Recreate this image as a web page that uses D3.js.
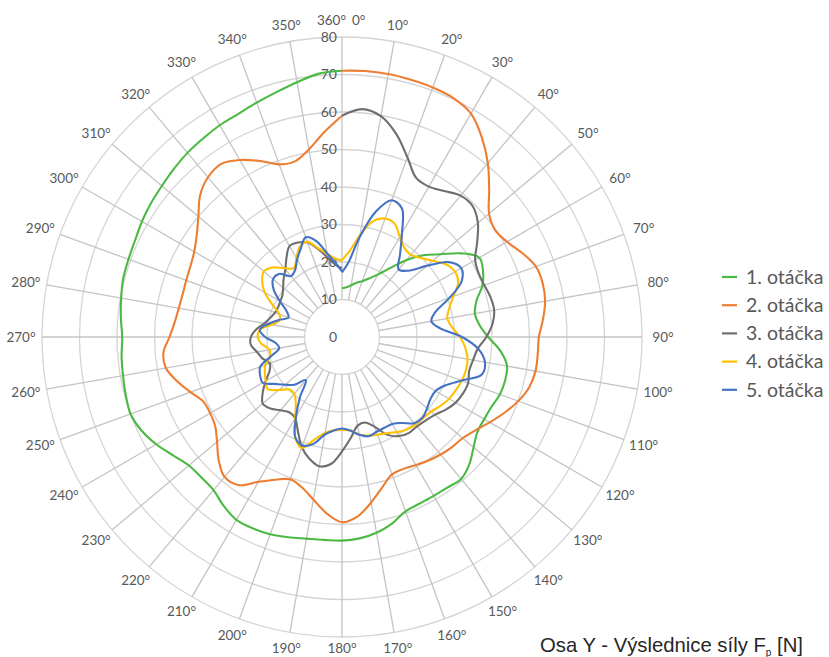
<!DOCTYPE html>
<html>
<head>
<meta charset="utf-8">
<script src="https://cdn.jsdelivr.net/npm/d3@7"></script>
<style>
  body { margin: 0; background: #fff; }
  svg { display: block; }
</style>
</head>
<body>
<svg id="chart" width="829" height="657"></svg>
<script>
// angles in degrees (one value every 5 degrees, 0..360)
const angles = d3.range(0, 361, 5);
const radialTicks = [10, 20, 30, 40, 50, 60, 70, 80];
const angleTicks = d3.range(10, 360, 10);
const seriesNames = ["1. otáčka", "2. otáčka", "3. otáčka", "4. otáčka", "5. otáčka"];

const otacka1 = [13, 13.3, 14, 15, 15.8, 17.3, 19.3, 22.5, 26.8, 30.8, 34.3, 38.9, 42.3, 41.5, 39.8, 37.1, 36, 36.8, 39, 42.4,
  44.7, 45, 44.8, 44, 43.8, 44.1, 45.8, 48, 49.4, 49, 48.9, 49, 49.5, 51.5, 53, 53.9, 54.3, 54.3, 54.6, 55.3,
  56, 56.3, 56.3, 55, 53.3, 53, 53.3, 55, 57.2, 59, 60, 59.7, 59.3, 59, 58.6, 59.2, 59.8, 60.4, 60.6, 60.9,
  61.6, 62.2, 62.7, 63.4, 64.1, 64.6, 65.2, 65.6, 66.5, 67.6, 69, 70.5, 71];
const otacka2 = [71, 71.2, 71.2, 71, 70.8, 70.3, 68.8, 65, 60.5, 55.5, 51.2, 49.8, 50.8, 53, 55, 55.4, 55, 53.8, 52.5, 52.4,
  52.4, 51.7, 50, 47.8, 45.5, 43.4, 42, 41.5, 40.9, 40.2, 39.4, 38.8, 39, 41.5, 44.8, 48, 49.4, 47.2, 44, 41.5,
  40.4, 42, 44.6, 48.2, 48.7, 46.5, 43.5, 41.3, 40.6, 40.8, 43, 45.5, 47.7, 47.8, 46, 44.8, 44.2, 44, 44.2, 44.6,
  45.5, 47.3, 50, 53.5, 55.6, 56.3, 54.5, 51.8, 49, 48.5, 50.8, 54.8, 59];
const otacka3 = [59, 61, 59.8, 56, 51, 46.8, 46.3, 47.5, 49.2, 49.3, 47.3, 44, 41, 40.2, 40.4, 41, 41.2, 40.3, 38.5, 36.3,
  35.5, 35.1, 35.8, 35.6, 35, 33.8, 32.3, 31.5, 31.1, 31.2, 30.5, 28.8, 25.5, 23.6, 24, 27, 30.5, 34, 35, 33.6,
  31.3, 27.8, 25, 24.5, 25.5, 27, 27.6, 25.8, 23.5, 21.3, 20.5, 22, 23, 24.4, 24.3, 23, 21, 19.8, 19, 18.8,
  19, 19.4, 20.5, 22, 23.5, 25.8, 28, 27.8, 26.8, 24.2, 21.4, 19.3, 18.3];
const otacka4 = [20.5, 23, 27.5, 32, 33.6, 33.3, 30.8, 29, 28.6, 29.8, 31.6, 33.8, 34.8, 34.2, 31.6, 29.6, 28.5, 29.5, 31.5, 33,
  34, 34.2, 34, 33.5, 33, 32, 31, 30.6, 30.5, 30.1, 29.3, 28.3, 27.7, 27.2, 26.4, 25, 24.8, 25, 26, 28.3,
  31.5, 29.5, 25, 21.5, 19.8, 19.8, 22, 24.2, 23.5, 22.7, 21.8, 19.9, 19.6, 21.5, 22.5, 22, 19, 17.2, 17.8, 20.5,
  23.8, 26, 27.2, 26.2, 24, 22.4, 24.3, 26.6, 27, 24.5, 22.5, 21, 20.3];
const otacka5 = [17.2, 20, 27, 34.5, 38.8, 37.8, 32, 27, 23.5, 25, 29.5, 34.8, 36.7, 35.2, 30.5, 25.8, 24.2, 26.3, 32, 36.5,
  38.7, 38.6, 34, 30.5, 28.8, 28.8, 29.6, 30.4, 30, 28, 26.8, 26.7, 26.9, 27.4, 26.5, 25, 24.4, 25, 26.4, 29.5,
  30.8, 29.5, 24.5, 19.5, 15, 18, 19.8, 21.8, 24.4, 24.1, 23.2, 19.5, 17, 17.8, 20.5, 22, 20, 17.5, 15.2, 16.3,
  19.2, 22.3, 24, 23.8, 21.2, 21.8, 23.9, 26, 28.3, 26.5, 22.6, 19.8, 17.5];

const seriesValues = [otacka1, otacka2, otacka3, otacka4, otacka5];
const colors = ["#4cb944", "#ed7d31", "#6e6e6e", "#ffc000", "#4472c4"];

const svg = d3.select("#chart");
const cx = 342, cy = 337;
const r = d3.scaleLinear().domain([0, 80]).range([0, 300]);
const a = d3.scaleLinear().domain([0, 360]).range([0, 2 * Math.PI]);
const labelFont = "Lato, 'Open Sans', sans-serif";

const g = svg.append("g").attr("transform", `translate(${cx},${cy})`);

// rings
g.selectAll("circle.ring")
  .data(radialTicks)
  .enter()
  .append("circle")
    .attr("class", "ring")
    .attr("r", d => r(d))
    .attr("fill", "none")
    .attr("stroke", "#d4d4d4")
    .attr("stroke-width", 1.3);

// spokes
g.selectAll("line.spoke")
  .data(d3.range(0, 360, 10))
  .enter()
  .append("line")
    .attr("class", "spoke")
    .attr("x1", d => r(10) * Math.sin(a(d)))
    .attr("y1", d => -r(10) * Math.cos(a(d)))
    .attr("x2", d => r(80) * Math.sin(a(d)))
    .attr("y2", d => -r(80) * Math.cos(a(d)))
    .attr("stroke", "#c4c4c4")
    .attr("stroke-width", 1.3);

// radial value labels
g.selectAll("text.rlabel")
  .data([0].concat(radialTicks))
  .enter()
  .append("text")
    .attr("class", "rlabel")
    .attr("x", -5)
    .attr("y", d => -r(d))
    .attr("dy", "0.35em")
    .attr("text-anchor", "end")
    .style("font-family", labelFont)
    .style("font-size", "14px")
    .style("fill", "#595959")
    .text(d => d);

// angle labels
const labR = 307;
g.selectAll("text.alabel")
  .data(angleTicks)
  .enter()
  .append("text")
    .attr("class", "alabel")
    .attr("x", d => labR * Math.sin(a(d)) + Math.sin(a(d)) * 14)
    .attr("y", d => Math.min(-labR * Math.cos(a(d)) - Math.cos(a(d)) * 10, 311))
    .attr("dy", "0.35em")
    .attr("text-anchor", "middle")
    .style("font-family", labelFont)
    .style("font-size", "13.5px")
    .style("fill", "#595959")
    .text(d => d + "°");

g.append("text")
    .attr("x", 4).attr("y", -labR - 10).attr("dy", "0.35em")
    .attr("text-anchor", "end")
    .style("font-family", labelFont).style("font-size", "13.5px").style("fill", "#595959")
    .text("360°");
g.append("text")
    .attr("x", 10).attr("y", -labR - 10).attr("dy", "0.35em")
    .attr("text-anchor", "start")
    .style("font-family", labelFont).style("font-size", "13.5px").style("fill", "#595959")
    .text("0°");

// series lines
const line = d3.lineRadial()
  .angle(d => a(d[0]))
  .radius(d => r(d[1]))
  .curve(d3.curveCatmullRom.alpha(0.5));

g.selectAll("path.series")
  .data(seriesValues)
  .enter()
  .append("path")
    .attr("class", "series")
    .attr("d", vals => line(angles.map((ang, i) => [ang, vals[i]])))
    .attr("fill", "none")
    .attr("stroke", (d, i) => colors[i])
    .attr("stroke-width", 2.1)
    .attr("stroke-linejoin", "round");

// legend
const legend = svg.selectAll("g.legend")
  .data(seriesNames)
  .enter()
  .append("g")
    .attr("class", "legend")
    .attr("transform", (d, i) => `translate(722,${277 + i * 28.2})`);
legend.append("line")
    .attr("x1", 0).attr("x2", 15)
    .attr("stroke", (d, i) => colors[i])
    .attr("stroke-width", 2.2);
legend.append("text")
    .attr("x", 24)
    .attr("dy", "0.35em")
    .style("font-family", labelFont)
    .style("font-size", "19.5px")
    .style("fill", "#595959")
    .text(d => d);

// title
const title = svg.append("text")
    .attr("x", 540).attr("y", 652)
    .style("font-family", "'Liberation Sans', Arial, sans-serif")
    .style("font-size", "20.3px")
    .style("fill", "#262626");
title.append("tspan").text("Osa Y - Výslednice síly F");
title.append("tspan").attr("dy", 4).style("font-size", "10px").text("p");
title.append("tspan").attr("dy", -4).text(" [N]");
</script>
</body>
</html>
